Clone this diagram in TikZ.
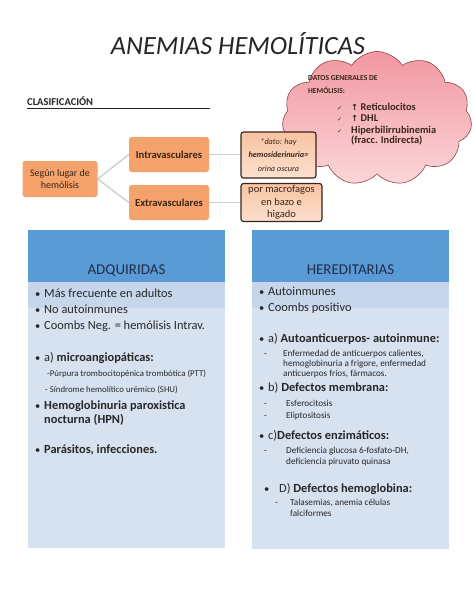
\documentclass[tikz,border=0pt]{standalone}
\usepackage{fontspec}
\setmainfont{Carlito}
\newfontfamily\dejavu{DejaVu Sans}
\usetikzlibrary{shapes.symbols}
\definecolor{orng}{HTML}{F5A26C}
\definecolor{peachA}{HTML}{F8C3A2}
\definecolor{peachB}{HTML}{FCE0CF}
\definecolor{hdrblue}{HTML}{5B9BD5}
\definecolor{bandblue}{HTML}{C6D7EC}
\definecolor{bodyblue}{HTML}{D7E2F1}
\definecolor{txt}{HTML}{262626}
\definecolor{navy}{HTML}{1F2D4A}
\definecolor{pinkA}{HTML}{F297A1}
\definecolor{pinkB}{HTML}{FBD6D9}
\definecolor{cloudline}{HTML}{8A4545}
\definecolor{conn}{HTML}{CFCFCF}
\definecolor{orngtxt}{HTML}{3A2418}
\tikzset{
  ln/.style={anchor=base west, inner sep=0pt, text=txt},
  big/.style={font=\fontsize{12.4}{14}\selectfont},
  bigb/.style={font=\fontsize{12.4}{14}\selectfont\bfseries},
  bul/.style={font=\fontsize{10.5}{12}\selectfont},
  small/.style={font=\fontsize{9.2}{11}\selectfont},
  lsmall/.style={font=\fontsize{8.8}{10}\selectfont},
  ctxt/.style={anchor=base west, inner sep=0pt, text=orngtxt, font=\fontsize{10.4}{11}\selectfont\bfseries},
  obox/.style={draw=none, fill=orng, rounded corners=2.5pt, text=orngtxt, align=center, inner sep=0pt},
  pbox/.style={draw=orngtxt, line width=1.1pt, rounded corners=2.5pt, top color=peachA, bottom color=peachB, text=orngtxt, align=center, inner sep=0pt},
  panel/.style={anchor=north west, inner sep=0pt, draw=none},
  link/.style={draw=conn, line width=1.4pt}
}
\begin{document}
\begin{tikzpicture}[x=1pt,y=-1pt]
\useasboundingbox (0,0) rectangle (474,614);
\fill[white] (0,0) rectangle (474,614);

% cloud
\node[cloud, cloud puffs=11, cloud puff arc=115, aspect=1.45, draw=cloudline, line width=0.6pt,
  top color=pinkA, bottom color=pinkB, minimum width=190pt, minimum height=134pt, inner sep=0pt] (cloud) at (377,118.5) {};

% title
\node[inner sep=0pt, text=txt, font=\fontsize{26.3}{28}\selectfont\itshape] (title) at (238,44) {ANEMIAS HEMOLÍTICAS};

% cloud text
\node[ln, font=\fontsize{7.6}{9}\selectfont\bfseries, text=orngtxt] (dg1) at (308,80.5) {DATOS GENERALES DE};
\node[ln, font=\fontsize{7.6}{9}\selectfont\bfseries, text=orngtxt] (dg2) at (308,93.5) {HEMÓLISIS:};
\node[ln, font=\fontsize{6}{7}\selectfont\dejavu, text=orngtxt] (ck1) at (337,110.5) {✓};
\node[ln, font=\fontsize{6}{7}\selectfont\dejavu, text=orngtxt] (ck2) at (337,121.5) {✓};
\node[ln, font=\fontsize{6}{7}\selectfont\dejavu, text=orngtxt] (ck3) at (337,133) {✓};
\node[ctxt] (it1) at (351,110.5) {{\dejavu\bfseries\fontsize{8.5}{9}\selectfont ↑} Reticulocitos};
\node[ctxt] (it2) at (351,121.5) {{\dejavu\bfseries\fontsize{8.5}{9}\selectfont ↑} DHL};
\node[ctxt] (it3) at (351,133) {Hiperbilirrubinemia};
\node[ctxt] (it4) at (351,143.5) {(fracc. Indirecta)};

% clasificacion
\node[ln, font=\fontsize{10.5}{12}\selectfont\bfseries] (clas) at (27,105.5) {CLASIFICACIÓN};
\draw[txt, line width=0.8pt] (clas.base west) ++(0,2.5) -- (210,108);

% orange boxes
\node[obox, minimum width=75pt, minimum height=36pt, font=\fontsize{10}{12}\selectfont] (seg) at (60,179) {Según lugar de\\hemólisis};
\node[obox, minimum width=80pt, minimum height=35pt, font=\fontsize{10.6}{12}\selectfont\bfseries] (intra) at (169,154.5) {Intravasculares};
\node[obox, minimum width=80pt, minimum height=35pt, font=\fontsize{10.6}{12}\selectfont\bfseries] (extra) at (169,202.5) {Extravasculares};
\node[pbox, minimum width=75pt, minimum height=46pt, font=\fontsize{8.2}{13.3}\selectfont\itshape] (note) at (278.5,155) {*dato: hay\\\textbf{hemosiderinuria=}\\orina oscura};
\node[pbox, minimum width=81pt, minimum height=38pt, font=\fontsize{10.5}{12.3}\selectfont] (macro) at (281.5,202.5) {por macrofagos\\en bazo e\\higado};
\draw[link] (seg.east) -- (intra.west);
\draw[link] (seg.east) -- (extra.west);
\draw[link] (intra.east) -- (note.west|-intra.east);
\draw[link] (extra.east) -- (macro.west|-extra.east);

% panels
\node[panel, fill=bodyblue, minimum width=197pt, minimum height=318pt] (lp) at (28,230) {};
\node[panel, fill=bandblue, minimum width=197pt, minimum height=26pt] (lband) at (28,282) {};
\node[panel, fill=hdrblue, minimum width=197pt, minimum height=52pt] (lh) at (28,230) {};
\node[panel, fill=bodyblue, minimum width=197pt, minimum height=319pt] (rp) at (252,230) {};
\node[panel, fill=bandblue, minimum width=197pt, minimum height=26pt] (rband) at (252,282) {};
\node[panel, fill=hdrblue, minimum width=197pt, minimum height=52pt] (rh) at (252,230) {};
\node[ln, anchor=base, text=navy, font=\fontsize{15}{17}\selectfont] (adq) at (126.5,274) {ADQUIRIDAS};
\node[ln, anchor=base, text=navy, font=\fontsize{15}{17}\selectfont] (her) at (350.5,274) {HEREDITARIAS};

% left panel text
\node[ln, bul] (lb1) at (35,297) {•}; \node[ln, big] (lt1) at (44,297) {Más frecuente en adultos};
\node[ln, bul] (lb2) at (35,313) {•}; \node[ln, big] (lt2) at (44,313) {No autoinmunes};
\node[ln, bul] (lb3) at (35,329) {•}; \node[ln, big] (lt3) at (44,329) {Coombs Neg. = hemólisis Intrav.};
\node[ln, bul] (lb4) at (35,361) {•}; \node[ln, big] (lt4) at (44,361) {a) \textbf{microangiopáticas:}};
\node[ln, lsmall] (ls1) at (47,376.5) {-Púrpura trombocitopénica trombótica (PTT)};
\node[ln, lsmall] (ls2) at (45,392.5) {- Síndrome hemolítico urémico (SHU)};
\node[ln, bul] (lb5) at (35,409) {•}; \node[ln, bigb] (lt5) at (44,409) {Hemoglobinuria paroxistica};
\node[ln, bigb] (lt6) at (44,423) {nocturna (HPN)};
\node[ln, bul] (lb7) at (35,453) {•}; \node[ln, bigb] (lt7) at (44,453) {Parásitos, infecciones.};

% right panel text
\node[ln, bul] (rb1) at (259,295) {•}; \node[ln, big] (rt1) at (268,295) {Autoinmunes};
\node[ln, bul] (rb2) at (259,311) {•}; \node[ln, big] (rt2) at (268,311) {Coombs positivo};
\node[ln, bul] (rb3) at (259,342) {•}; \node[ln, big] (rt3) at (268,342) {a) \textbf{Autoanticuerpos- autoinmune:}};
\node[ln, small] (rd1) at (264,356) {-}; \node[ln, small] (rs1) at (283,356) {Enfermedad de anticuerpos calientes,};
\node[ln, small] (rs2) at (283,366) {hemoglobinuria a frigore, enfermedad};
\node[ln, small] (rs3) at (283,376) {anticuerpos fríos, fármacos.};
\node[ln, bul] (rb4) at (259,391) {•}; \node[ln, big] (rt4) at (268,391) {b) \textbf{Defectos membrana:}};
\node[ln, small] (rd2) at (264,406) {-}; \node[ln, small] (rs4) at (286,406) {Esferocitosis};
\node[ln, small] (rd3) at (264,418) {-}; \node[ln, small] (rs5) at (286,418) {Eliptositosis};
\node[ln, bul] (rb5) at (259,439) {•}; \node[ln, big] (rt5) at (268,439) {c)\textbf{Defectos enzimáticos:}};
\node[ln, small] (rd4) at (264,453) {-}; \node[ln, small] (rs6) at (286,453) {Deficiencia glucosa 6-fosfato-DH,};
\node[ln, small] (rs7) at (286,464) {deficiencia piruvato quinasa};
\node[ln, bul] (rb6) at (264,492) {•}; \node[ln, big] (rt6) at (279,492) {D) \textbf{Defectos hemoglobina:}};
\node[ln, small] (rd5) at (275,505) {-}; \node[ln, small] (rs8) at (290,505) {Talasemias, anemia células};
\node[ln, small] (rs9) at (290,516) {falciformes};
\end{tikzpicture}
\end{document}
